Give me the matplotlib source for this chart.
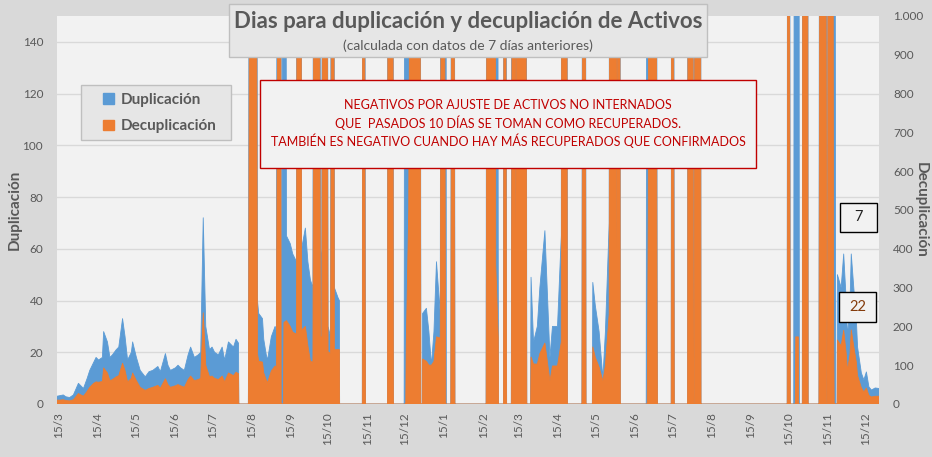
import matplotlib
matplotlib.use("Agg")
import matplotlib.pyplot as plt
import numpy as np
import pandas as pd
from matplotlib.patches import Patch, Rectangle

plt.rcParams['font.family'] = ['Lato', 'DejaVu Sans']

# dias desde el 14/3/2020; valores negativos = huecos (se recortan en 0)
inicio = pd.Timestamp('2020-03-14')
dias = [0, 2, 5, 7, 10, 13, 17, 18, 21, 24, 26, 29, 31, 33, 36, 37, 40, 42, 44, 47,
        49, 52, 54, 56, 59, 60, 63, 66, 70, 73, 76, 80, 82, 86, 88, 90, 94, 96, 98, 101,
        104, 106, 109, 112, 114, 116, 118, 121, 123, 125, 128, 131, 133, 136, 140, 142, 144, 146, 151,
        152, 154, 155, 157, 159, 160, 163, 164, 166, 167, 170, 173, 174, 177, 178, 180, 182, 185, 187,
        190, 191, 193, 194, 197, 199, 201, 203, 205, 207, 209, 210, 212, 213, 215, 217, 219, 220,
        223, 224, 225, 242, 243, 245, 262, 263, 266, 267, 275, 277, 279, 282, 285, 287, 289,
        290, 293, 295, 297, 299, 301, 304, 306, 308, 309, 312, 314, 316, 340, 342, 344, 347,
        348, 350, 351, 354, 355, 357, 360, 362, 364, 366, 369, 371, 373, 374, 376, 378, 381,
        383, 387, 391, 393, 397, 400, 401, 404, 405, 416, 418, 420, 423, 425, 427, 430, 433,
        435, 438, 439, 442, 444, 446, 447, 467, 469, 470, 473, 474, 476, 477, 487, 488, 490,
        500, 501, 504, 505, 507, 510, 511, 579, 580, 582, 584, 586, 588, 589, 591, 592, 595,
        596, 604, 606, 609, 611, 612, 615, 616, 618, 619, 622, 624, 626, 627, 629, 630, 632,
        634, 635, 638, 640, 642, 644, 646, 649, 652]

duplicacion = [3, 3.2, 3.5, 2.8, 2.5, 3.5, 8, 7.5, 6, 10, 13, 16, 18, 17, 18, 28, 24, 18, 19, 21,
               22, 33, 26, 17, 20, 24, 18, 13, 10.5, 12.5, 13, 14.5, 12.5, 19.5, 15, 13, 14, 15, 14, 13,
               19, 22, 18, 19, 20, 72, 30, 21, 22, 20, 19, 22, 17, 24, 22, 25, 23.5, -200, -200,
               55, 900, 400, 900, 40, 35, 33, 25, 19, 17, 26, 30, 28, 900, -200, 900, 65, 62, 58,
               55, 900, 900, 60, 68, 55, 48, 45, 900, 900, 60, 55, 900, 900, 30, 26, 900, 45,
               41, 40, -200, -200, 900, -200, -200, 900, 900, -200, -200, 900, 900, 900, 900, 900, -200,
               35, 37, 28, 15, 28, 55, 35, 900, 900, -200, -200, 900, -200, -200, 900, 900, 900,
               900, 54, -200, -200, 900, -200, -200, 900, 900, 900, 900, 900, -200, -200, 49, 24, 30,
               45, 67, 18, 30, 30, 65, 900, 900, -200, -200, 900, -200, -200, 47, 38, 28, 10,
               28, 70, 900, 900, 900, 900, -200, -200, 900, 900, 900, 900, 60, -200, -200, 900, -200,
               -200, 900, 900, -200, 900, 900, -200, -200, 900, -200, -200, 900, 900, -200, -200, 900, 900,
               -200, -200, 900, 900, -200, 900, 900, 900, -200, 50, 45, 58, 40, 26, 39, 58, 45,
               33, 22, 12, 9.3, 12.4, 6.6, 5.4, 6.2, 6]

decuplicacion = [10, 10, 11, 9, 8, 11, 27, 25, 20, 33, 43, 53, 57, 56, 58, 93, 80, 60, 63, 70,
                 73, 105, 86, 57, 66, 80, 60, 43, 35, 40, 43, 48, 41, 65, 50, 43, 47, 50, 47, 43,
                 63, 72, 60, 63, 66, 235, 100, 70, 72, 66, 63, 72, 57, 80, 73, 82, 78, -700, -700,
                 180, 3000, 1500, 3000, 130, 110, 108, 80, 62, 55, 85, 98, 92, 3000, -700, 210, 215, 200, 185,
                 180, 3000, 3000, 190, 200, 150, 110, 108, 3000, 3000, 175, 170, 3000, 3000, 135, 130, 3000, 140,
                 140, 140, -700, -700, 3000, -700, -700, 3000, 3000, -700, -700, 150, 500, 3000, 3000, 3000, -700,
                 116, 110, 100, 100, 110, 173, 170, 3000, 400, -700, -700, 3000, -700, -700, 3000, 3000, 3000,
                 360, 170, -700, -700, 3000, -700, -700, 3000, 450, 3000, 3000, 3000, -700, -700, 121, 103, 103,
                 130, 157, 59, 98, 98, 160, 3000, 3000, -700, -700, 3000, -700, -700, 147, 120, 95, 59,
                 100, 232, 3000, 3000, 400, 3000, -700, -700, 500, 3000, 3000, 3000, 200, -700, -700, 3000, -700,
                 -700, 3000, 3000, -700, 3000, 3000, -700, -700, 3000, -700, -700, 173, 173, -700, -700, 3000, 3000,
                 -700, -700, 3000, 3000, -700, 3000, 3000, 209, -700, 165, 150, 190, 130, 86, 128, 191, 148,
                 108, 73, 42, 31, 41, 22, 18, 20, 20]

ticks_izq = [0, 20, 40, 60, 80, 100, 120, 140]
ticks_der = [0, 100, 200, 300, 400, 500, 600, 700, 800, 900, 1000]
etiquetas_der = ['0', '100', '200', '300', '400', '500', '600', '700', '800', '900', '1.000']

fechas = inicio + pd.to_timedelta(dias, unit='D')
gris = '#595959'

fig = plt.figure(figsize=(9.32, 4.57), dpi=100, facecolor='#D9D9D9')
W, H = 932, 457
ax = fig.add_axes([57 / W, 1 - 404 / H, 822 / W, 388 / H])
ax.set_facecolor('#F2F2F2')
ax.fill_between(fechas, 0, duplicacion, color='#5B9BD5', lw=0.6, edgecolor='#5B9BD5')
ax.set_ylim(0, 150)
ax.set_yticks(ticks_izq)
ax.grid(axis='y', color='#D9D9D9', lw=1)
ax.set_axisbelow(True)
ax.set_xlim(inicio, inicio + pd.Timedelta(days=652))

ax2 = ax.twinx()
ax2.fill_between(fechas, 0, decuplicacion, color='#ED7D31', lw=0.6, edgecolor='#ED7D31')
ax2.set_ylim(0, 1000)
ax2.set_yticks(ticks_der)
ax2.set_yticklabels(etiquetas_der)

# ticks del dia 15 de cada mes
meses = pd.date_range('2020-03-01', '2021-12-01', freq='MS') + pd.Timedelta(days=14)
ax.set_xticks(meses)
ax.set_xticklabels([f'{m.day}/{m.month}' for m in meses], rotation=90)

for a in (ax, ax2):
    for s in a.spines.values():
        s.set_visible(False)
    a.tick_params(length=0, colors=gris, labelsize=8.5)
ax.tick_params(axis='y', pad=10)
ax2.tick_params(axis='y', pad=10)
ax.tick_params(axis='x', pad=6)

ax.set_ylabel('Duplicación', fontsize=11, fontweight='bold', color=gris, va='center')
ax.yaxis.set_label_coords((15 - 57) / 822, 0.5)
ax2.set_ylabel('Decuplicación', fontsize=11, fontweight='bold', color=gris, rotation=270, va='center')
ax2.yaxis.set_label_coords((921 - 57) / 822, 0.5)

# titulo en caja
fig.patches.append(Rectangle((229 / W, 1 - 57 / H), 478 / W, 53 / H, transform=fig.transFigure,
                             facecolor='#E6E6E6', edgecolor='#BFBFBF', lw=1))
fig.text(468 / W, 1 - 21 / H, 'Dias para duplicación y decupliación de Activos', ha='center', va='center',
         fontsize=16, fontweight='bold', color=gris)
fig.text(468 / W, 1 - 46 / H, '(calculada con datos de 7 días anteriores)', ha='center', va='center',
         fontsize=10, color=gris)

# cuadro de aviso
fig.patches.append(Rectangle((260 / W, 1 - 168 / H), 496 / W, 88 / H, transform=fig.transFigure,
                             facecolor='#F2F2F2', edgecolor='#C00000', lw=1))
aviso = ['NEGATIVOS POR AJUSTE DE ACTIVOS NO INTERNADOS',
         'QUE  PASADOS 10 DÍAS SE TOMAN COMO RECUPERADOS.',
         'TAMBIÉN ES NEGATIVO CUANDO HAY MÁS RECUPERADOS QUE CONFIRMADOS']
for i, linea in enumerate(aviso):
    fig.text(508 / W, 1 - (105 + 18 * i) / H, linea, ha='center', va='center', fontsize=9, color='#C00000')

# leyenda: marco propio y leyenda sin marco dentro
ax2.add_patch(Rectangle((81 / W, 1 - 140 / H), 150 / W, 55 / H, transform=fig.transFigure,
                        facecolor='#E6E6E6', edgecolor='#BFBFBF', lw=1, zorder=4, clip_on=False))
leg = ax2.legend(handles=[Patch(color='#5B9BD5', label='Duplicación'),
                          Patch(color='#ED7D31', label='Decuplicación')],
                 loc='center left', bbox_to_anchor=((103 - 57) / 822, (404 - 113) / 388),
                 frameon=False, handlelength=0.7, handleheight=0.7, handletextpad=0.45,
                 borderpad=0, labelspacing=0.85, borderaxespad=0,
                 prop={'weight': 'bold', 'size': 11})
leg.set_zorder(6)
for t in leg.get_texts():
    t.set_color(gris)

# etiquetas de ultimo valor
for (x0, y0, w, h), txt, col in [((840, 203, 37, 29), '7', '#222222'),
                                 ((839, 292, 37, 30), '22', '#843C0C')]:
    fig.patches.append(Rectangle((x0 / W, 1 - (y0 + h) / H), w / W, h / H, transform=fig.transFigure,
                                 facecolor='#F2F2F2', edgecolor='black', lw=1, zorder=5))
    fig.text((x0 + w / 2) / W, 1 - (y0 + h / 2) / H, txt, ha='center', va='center',
             fontsize=10.5, color=col, zorder=6)

fig.savefig('out.png', dpi=100, facecolor=fig.get_facecolor())
